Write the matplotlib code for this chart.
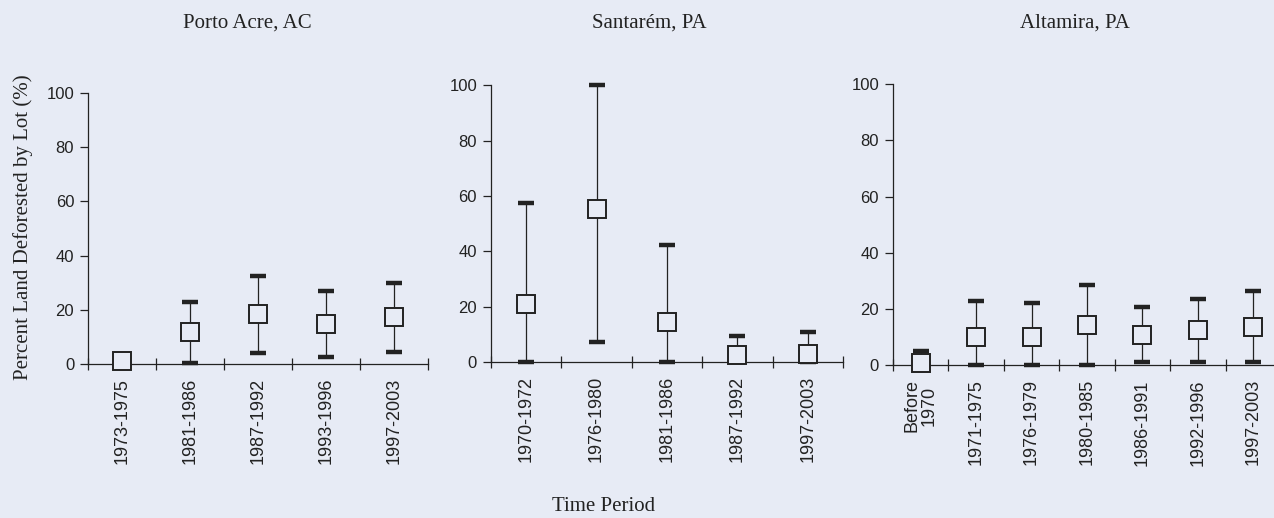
import matplotlib
matplotlib.use("Agg")
import matplotlib.pyplot as plt
import numpy as np

# Porto Acre, AC
acre_periods = ["1973-1975", "1981-1986", "1987-1992", "1993-1996", "1997-2003"]
acre_mid = [1.0, 11.7, 18.6, 14.6, 17.3]
acre_low = [0.0, 0.3, 4.2, 2.7, 4.5]
acre_high = [3.3, 23.0, 32.6, 27.0, 30.0]

# Santarém, PA
stm_periods = ["1970-1972", "1976-1980", "1981-1986", "1987-1992", "1997-2003"]
stm_mid = [20.9, 55.2, 14.7, 2.8, 3.1]
stm_low = [0.0, 7.3, 0.0, 0.0, 0.0]
stm_high = [57.6, 100.0, 42.4, 9.5, 11.0]

# Altamira, PA
alt_periods = ["Before\n1970", "1971-1975", "1976-1979", "1980-1985",
               "1986-1991", "1992-1996", "1997-2003"]
alt_mid = [0.7, 10.2, 10.0, 14.2, 10.8, 12.4, 13.7]
alt_low = [0.0, 0.0, 0.0, 0.0, 1.0, 1.2, 1.2]
alt_high = [5.2, 23.0, 22.3, 28.7, 20.7, 23.7, 26.3]

BG = "#e7ebf5"
INK = "#222222"
SERIF = ["Liberation Serif", "DejaVu Serif"]
SANS = ["Liberation Sans", "DejaVu Sans"]

fig = plt.figure(figsize=(12.74, 5.18), dpi=100)
fig.patch.set_facecolor(BG)

# (title, labels, centre, low, high, axes rect, title x)
panels = [
    ("Porto Acre, AC", acre_periods, acre_mid, acre_low, acre_high,
     [0.0691, 0.2973, 0.2669, 0.523], 0.1939),
    ("Santarém, PA", stm_periods, stm_mid, stm_low, stm_high,
     [0.3854, 0.3005, 0.2763, 0.5353], 0.5094),
    ("Altamira, PA", alt_periods, alt_mid, alt_low, alt_high,
     [0.7009, 0.2948, 0.3046, 0.543], 0.8438),
]

for title, periods, mid, low, high, pos, tx in panels:
    ax = fig.add_axes(pos)
    ax.set_facecolor(BG)
    n = len(periods)
    x = np.arange(n) + 0.5

    # whiskers
    ax.vlines(x, low, high, color=INK, lw=0.9, clip_on=False, zorder=2)
    # caps
    for ends in (low, high):
        ax.plot(x, ends, linestyle="none", marker="_", markersize=11,
                markeredgewidth=3.2, color=INK, clip_on=False, zorder=2)
    # boxes
    ax.plot(x, mid, linestyle="none", marker="s", markersize=13,
            markerfacecolor=BG, markeredgecolor=INK, markeredgewidth=1.4,
            clip_on=False, zorder=3)

    ax.set_xlim(0, n)
    ax.set_ylim(0, 100)
    ax.set_yticks([0, 20, 40, 60, 80, 100])
    ax.set_xticks(np.arange(n + 1))
    ax.set_xticklabels([])
    ax.set_xticks(x, minor=True)
    ax.set_xticklabels(periods, minor=True, rotation=90, fontfamily=SANS,
                       fontsize=13, color=INK, va="top", ha="center",
                       multialignment="center", linespacing=1.0)
    ax.tick_params(axis="x", which="minor", length=0, pad=10)
    ax.tick_params(axis="x", which="major", direction="inout", length=9,
                   width=0.9, color=INK)
    ax.tick_params(axis="y", direction="out", length=6, width=0.9,
                   color=INK, labelsize=12, labelcolor=INK, pad=4)
    for lab in ax.get_yticklabels():
        lab.set_fontfamily(SANS)

    for s in ["top", "right"]:
        ax.spines[s].set_visible(False)
    for s in ["left", "bottom"]:
        ax.spines[s].set_color(INK)
        ax.spines[s].set_linewidth(0.9)

    fig.text(tx, 0.956, title, fontfamily=SERIF, fontsize=15, color=INK,
             ha="center", va="center")

fig.text(0.018, 0.562, "Percent Land Deforested by Lot (%)", rotation=90,
         fontfamily=SERIF, fontsize=15, color=INK, ha="center", va="center")
fig.text(0.474, 0.022, "Time Period", fontfamily=SERIF, fontsize=15,
         color=INK, ha="center", va="center")

fig.savefig("out.png", dpi=100, facecolor=fig.get_facecolor())
